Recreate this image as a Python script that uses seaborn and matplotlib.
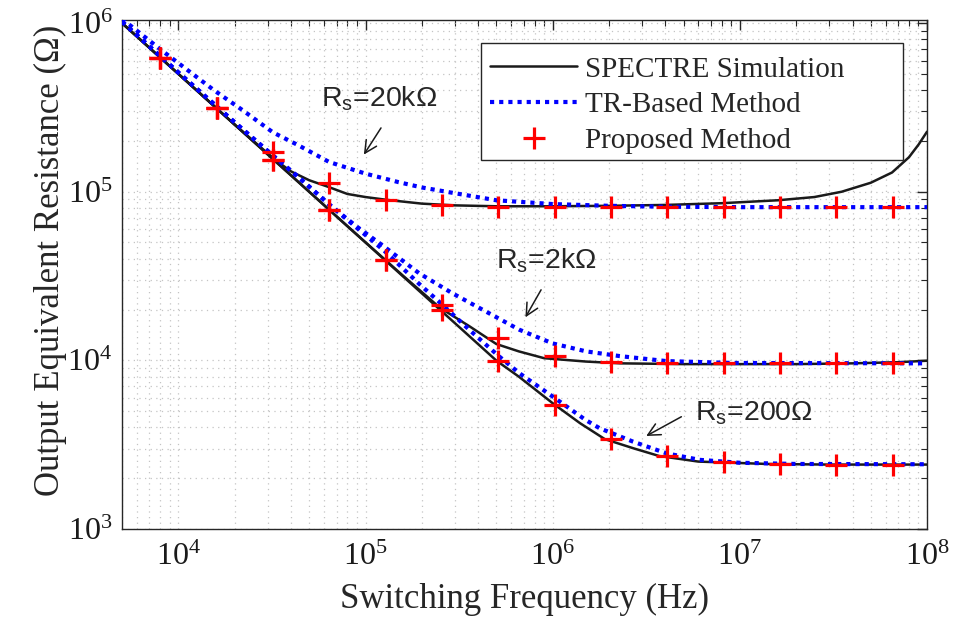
import numpy as np
import matplotlib
matplotlib.use('Agg')
import matplotlib.pyplot as plt
from matplotlib.lines import Line2D
from matplotlib.patches import Rectangle
from matplotlib.ticker import LogLocator, NullFormatter
import seaborn as sns

# values (Hz, Ohm)
f_prop = [8e3, 16e3, 32e3, 64e3, 128e3, 256e3, 512e3, 1.024e6, 2.048e6,
          4.096e6, 8.192e6, 1.6384e7, 3.2768e7, 6.5536e7]
prop_20k = [6.2e5, 3.14e5, 1.73e5, 1.13e5, 8.98e4, 8.3e4, 8.1e4, 8.1e4,
            8.1e4, 8.1e4, 8.1e4, 8.1e4, 8.1e4, 8.1e4]
prop_2k = [6.2e5, 3.14e5, 1.55e5, 7.74e4, 3.95e4, 2.13e4, 1.355e4, 1.064e4,
           9.75e3, 9.7e3, 9.66e3, 9.66e3, 9.66e3, 9.66e3]
prop_200 = [6.2e5, 3.14e5, 1.55e5, 7.74e4, 3.95e4, 1.98e4, 9.97e3, 5.45e3,
            3.41e3, 2.71e3, 2.48e3, 2.42e3, 2.41e3, 2.41e3]

f_sp_20k = [5e3, 1e4, 2e4, 3e4, 3.5e4, 4e4, 5e4, 6.3e4, 8e4, 1e5, 1.3e5, 2e5,
            3e5, 5e5, 1e6, 2e6, 4e6, 8e6, 1.6e7, 2.5e7, 3.5e7, 5e7, 6.5e7,
            8e7, 9e7, 1e8]
sp_20k = [1.0e6, 5.0e5, 2.5e5, 1.69e5, 1.47e5, 1.32e5, 1.17e5, 1.07e5, 9.7e4,
          9.3e4, 8.95e4, 8.5e4, 8.3e4, 8.2e4, 8.2e4, 8.25e4, 8.35e4, 8.55e4,
          8.9e4, 9.3e4, 1.0e5, 1.13e5, 1.3e5, 1.6e5, 1.9e5, 2.27e5]

f_sp_2k = [5e3, 1e4, 2e4, 4e4, 8e4, 1.6e5, 2.5e5, 3.6e5, 5e5, 6.6e5, 9e5,
           1.5e6, 2.3e6, 5e6, 1e7, 2e7, 4e7, 7e7, 1e8]
sp_2k = [1.0e6, 5.0e5, 2.5e5, 1.25e5, 6.25e4, 3.15e4, 2.05e4, 1.59e4, 1.25e4,
         1.13e4, 1.03e4, 9.84e3, 9.6e3, 9.5e3, 9.5e3, 9.5e3, 9.6e3, 9.75e3,
         9.95e3]

f_sp_200 = [5e3, 1e4, 2e4, 4e4, 8e4, 1.6e5, 3.2e5, 5e5, 6.6e5, 1e6, 1.4e6,
            1.9e6, 2.7e6, 3.7e6, 6e6, 1.4e7, 3e7, 1e8]
sp_200 = [1.0e6, 5.0e5, 2.5e5, 1.25e5, 6.25e4, 3.12e4, 1.56e4, 9.97e3, 8.0e3,
          5.57e3, 4.24e3, 3.41e3, 3.01e3, 2.71e3, 2.51e3, 2.43e3, 2.41e3,
          2.41e3]

f_tr_20k = [5e3, 8e3, 1.55e4, 2.2e4, 3.2e4, 4.4e4, 6.4e4, 1e5, 1.5e5, 2e5,
            3e5, 5e5, 1e6, 2e6, 4e6, 1e7, 1e8]
tr_20k = [1.06e6, 7.0e5, 4.0e5, 3.05e5, 2.25e5, 1.88e5, 1.5e5, 1.28e5,
          1.14e5, 1.06e5, 9.8e4, 8.9e4, 8.45e4, 8.25e4, 8.15e4, 8.1e4, 8.1e4]

f_tr_2k = [5e3, 1e4, 2e4, 3.2e4, 4.5e4, 6.4e4, 9e4, 1.25e5, 1.93e5, 2.91e5,
           4.39e5, 6.63e5, 1e6, 1.51e6, 2.28e6, 4.05e6, 9.2e6, 1e8]
tr_2k = [1.02e6, 5.1e5, 2.58e5, 1.64e5, 1.19e5, 8.4e4, 6.2e4, 4.75e4, 3.29e4,
         2.5e4, 1.95e4, 1.52e4, 1.26e4, 1.13e4, 1.06e4, 9.9e3, 9.65e3, 9.6e3]

f_tr_200 = [5e3, 1e4, 2e4, 3.2e4, 4.5e4, 6.4e4, 9e4, 1.25e5, 1.93e5, 2.56e5,
            3.58e5, 5.1e5, 6.63e5, 1e6, 1.5e6, 1.78e6, 2.68e6, 4.05e6, 6.1e6,
            1e7, 2e7, 1e8]
tr_200 = [1.02e6, 5.1e5, 2.58e5, 1.64e5, 1.19e5, 8.4e4, 6.1e4, 4.5e4, 2.85e4,
          2.15e4, 1.52e4, 1.07e4, 8.4e3, 6.1e3, 4.43e3, 3.96e3, 3.3e3, 2.81e3,
          2.57e3, 2.47e3, 2.43e3, 2.42e3]

labels = ['SPECTRE Simulation', 'TR-Based Method', 'Proposed Method']

BLUE = '#0000ff'
RED = '#ff0000'
AXC = '#262626'

sns.set_theme(style='white')
plt.rcParams['font.family'] = ['Liberation Serif', 'DejaVu Serif']
plt.rcParams['mathtext.fontset'] = 'custom'
plt.rcParams['mathtext.rm'] = 'Liberation Serif'
plt.rcParams['mathtext.sf'] = 'Liberation Sans'

fig = plt.figure(figsize=(9.56, 6.32), dpi=100)
ax = fig.add_axes([0.1276, 0.163, 0.8421, 0.8061])
ax.set_xscale('log')
ax.set_yscale('log')

dots = (0, (1, 1.2))
for f, r in [(f_sp_20k, sp_20k), (f_sp_2k, sp_2k), (f_sp_200, sp_200)]:
    sns.lineplot(x=f, y=r, ax=ax, color='k', lw=1.8, estimator=None,
                 sort=False, zorder=3)
for f, r in [(f_tr_20k, tr_20k), (f_tr_2k, tr_2k), (f_tr_200, tr_200)]:
    sns.lineplot(x=f, y=r, ax=ax, color=BLUE, lw=3, linestyle=dots,
                 estimator=None, sort=False, zorder=4)
for r in [prop_20k, prop_2k, prop_200]:
    sns.scatterplot(x=f_prop, y=r, ax=ax, marker='+', s=260, color=RED,
                    linewidth=2.3, zorder=5)

ax.set_xlim(5e3, 1e8)
ax.set_ylim(1e3, 1.05e6)
ax.set_xticks([1e4, 1e5, 1e6, 1e7, 1e8])
ax.set_yticks([1e3, 1e4, 1e5, 1e6])
for a in (ax.xaxis, ax.yaxis):
    a.set_minor_locator(LogLocator(base=10, subs=np.arange(2, 10), numticks=30))
    a.set_minor_formatter(NullFormatter())

ax.grid(True, which='both', linestyle=(0, (1, 3.5)), color='#c4c4c4', lw=0.9)
ax.tick_params(which='both', direction='in', top=True, right=True,
               colors=AXC, labelcolor='k', labelsize=23)
ax.tick_params(which='major', length=7, width=1)
ax.tick_params(which='minor', length=4, width=0.8)
ax.tick_params(axis='x', pad=10)
ax.tick_params(axis='y', pad=7)
for s in ax.spines.values():
    s.set_color(AXC)
    s.set_linewidth(1.0)

ax.set_xlabel('Switching Frequency (Hz)', fontsize=25, color=AXC)
ax.set_ylabel('Output Equivalent Resistance (Ω)', fontsize=25, color=AXC)
ax.xaxis.set_label_coords(0.5, -0.106)
ax.yaxis.set_label_coords(-0.068, 0.528)

# annotations
notes = [('R$_\\mathdefault{s}$=20kΩ', (5.77e4, 3.2e5), (1.21e5, 2.39e5), (9.8e4, 1.66e5)),
         ('R$_\\mathdefault{s}$=2kΩ', (4.98e5, 3.52e4), (8.67e5, 2.62e4), (7.15e5, 1.8e4)),
         ('R$_\\mathdefault{s}$=200Ω', (5.74e6, 4.43e3), (4.87e6, 4.63e3), (3.16e6, 3.56e3))]
for txt, pos, tail, tip in notes:
    ax.text(pos[0], pos[1], txt, fontsize=20.5, family='Liberation Sans',
            ha='left', va='baseline', zorder=6)
    ax.annotate('', xy=tip, xytext=tail,
                arrowprops=dict(arrowstyle='->', lw=1.1, color='k',
                                mutation_scale=22, shrinkA=0, shrinkB=0))

# legend box (wide, like the original) with frameless entries inside
ax.add_patch(Rectangle((0.446, 0.724), 0.524, 0.230, transform=ax.transAxes,
                       facecolor='white', edgecolor=AXC, lw=1.0, zorder=9))
handles = [Line2D([], [], color='k', lw=1.8),
           Line2D([], [], color=BLUE, lw=3, linestyle=dots),
           Line2D([], [], color=RED, marker='+', linestyle='none', ms=16, mew=2.3)]
leg = ax.legend(handles, labels, loc='upper left', bbox_to_anchor=(0.457, 0.928),
                fontsize=21, frameon=False, handlelength=3.0, handletextpad=0.25,
                borderpad=0, labelspacing=0.32, borderaxespad=0)
leg.set_zorder(10)

fig.savefig('out.png', dpi=100)
